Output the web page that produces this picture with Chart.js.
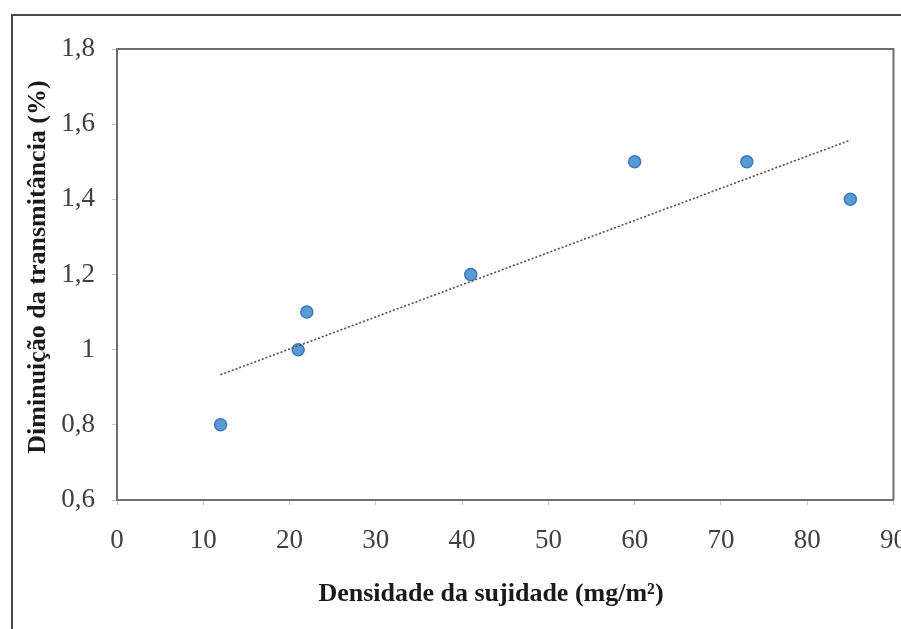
<!DOCTYPE html>
<html>
<head>
<meta charset="utf-8">
<script src="https://cdn.jsdelivr.net/npm/chart.js@4.4.1/dist/chart.umd.min.js"></script>
<style>
  html, body { margin: 0; padding: 0; background: #fff; }
  #wrap { position: relative; width: 901px; height: 629px; overflow: hidden; }
  #frame { position: absolute; left: 11px; top: 14px; width: 900px; height: 630px;
           border-top: 2px solid #4a4a4a; border-left: 2px solid #4a4a4a; }
  canvas { position: absolute; left: 0; top: 0; }
</style>
</head>
<body>
<div id="wrap">
  <div id="frame"></div>
  <canvas id="myChart" width="901" height="629"></canvas>
</div>
<script>
// measurements: soiling density vs. drop in transmittance
const densidade = [12, 21, 22, 41, 60, 73, 85]
const diminuicao = [0.8, 1.0, 1.1, 1.2, 1.5, 1.5, 1.4]

const xTickValues = [0, 10, 20, 30, 40, 50, 60, 70, 80, 90]
const xTickLabels = ['0', '10', '20', '30', '40', '50', '60', '70', '80', '90']
const yTickValues = [0.6, 0.8, 1.0, 1.2, 1.4, 1.6, 1.8]
const yTickLabels = ['0,6', '0,8', '1', '1,2', '1,4', '1,6', '1,8']

const xTitle = 'Densidade da sujidade (mg/m²)'
const yTitle = 'Diminuição da transmitância (%)'

// least squares line through the measurements
function linearFit(xs, ys){
    const n = xs.length
    let mx = 0, my = 0
    for (let i = 0; i < n; i++){ mx += xs[i]; my += ys[i] }
    mx /= n; my /= n
    let sxy = 0, sxx = 0
    for (let i = 0; i < n; i++){
        sxy += (xs[i] - mx) * (ys[i] - my)
        sxx += (xs[i] - mx) * (xs[i] - mx)
    }
    const slope = sxy / sxx
    return { slope: slope, intercept: my - slope * mx }
}

const fit = linearFit(densidade, diminuicao)
const xMin = Math.min(...densidade)
const xMax = Math.max(...densidade)
const trendPoints = [
    { x: xMin, y: fit.intercept + fit.slope * xMin },
    { x: xMax, y: fit.intercept + fit.slope * xMax }
]

const serif = "'Liberation Serif', 'Times New Roman', serif"

// top and right edges of the plot box
const plotFrame = {
    id: 'plotFrame',
    beforeDatasetsDraw(chart){
        const { ctx, chartArea: a } = chart
        ctx.save()
        ctx.strokeStyle = '#6e6e6e'
        ctx.lineWidth = 2
        ctx.beginPath()
        ctx.moveTo(a.left, a.top)
        ctx.lineTo(a.right, a.top)
        ctx.lineTo(a.right, a.bottom)
        ctx.stroke()
        ctx.restore()
    }
}

// axis titles
const axisTitles = {
    id: 'axisTitles',
    afterDraw(chart){
        const { ctx } = chart
        ctx.save()
        ctx.fillStyle = '#1a1a1a'
        ctx.font = 'bold 26px ' + serif
        ctx.textAlign = 'center'
        ctx.textBaseline = 'middle'
        ctx.fillText(xTitle, 491, 594)
        ctx.translate(38, 267)
        ctx.rotate(-Math.PI / 2)
        ctx.fillText(yTitle, 0, 0)
        ctx.restore()
    }
}

new Chart('myChart', {
    data: {
        datasets: [
            {
                type: 'line',
                data: trendPoints,
                borderColor: '#505050',
                borderWidth: 1.6,
                borderDash: [2, 2],
                pointRadius: 0,
                fill: false,
                order: 0
            },
            {
                type: 'scatter',
                data: densidade.map((x, i) => ({ x: x, y: diminuicao[i] })),
                pointRadius: 6,
                pointBackgroundColor: '#5b9bd5',
                pointBorderColor: '#3c78bd',
                pointBorderWidth: 1.5,
                order: 1
            }
        ]
    },
    options: {
        responsive: false,
        animation: false,
        layout: { padding: { top: 49, right: 7, left: 0, bottom: 0 } },
        plugins: { legend: { display: false }, tooltip: { enabled: false } },
        scales: {
            x: {
                type: 'linear',
                min: 0, max: 90,
                afterBuildTicks: s => { s.ticks = xTickValues.map(v => ({ value: v })) },
                afterFit: s => { s.height = 129; s.paddingLeft = 0; s.paddingRight = 0 },
                ticks: {
                    callback: (v, i) => xTickLabels[i],
                    font: { family: serif, size: 27 },
                    color: '#404040',
                    padding: 20,
                    maxRotation: 0
                },
                grid: { drawOnChartArea: false, tickLength: 5, color: '#c4c4c4' },
                border: { color: '#6e6e6e', width: 2 }
            },
            y: {
                type: 'linear',
                min: 0.6, max: 1.8,
                afterBuildTicks: s => { s.ticks = yTickValues.map(v => ({ value: v })) },
                afterFit: s => { s.width = 117; s.paddingTop = 0; s.paddingBottom = 0 },
                ticks: {
                    callback: (v, i) => yTickLabels[i],
                    font: { family: serif, size: 27 },
                    color: '#404040',
                    padding: 17
                },
                grid: { drawOnChartArea: false, tickLength: 5, color: '#c4c4c4' },
                border: { color: '#6e6e6e', width: 2 }
            }
        }
    },
    plugins: [plotFrame, axisTitles]
})
</script>
</body>
</html>
